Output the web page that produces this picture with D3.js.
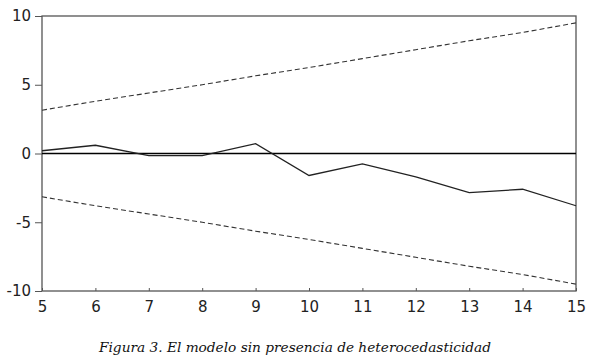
<!DOCTYPE html>
<html>
<head>
<meta charset="utf-8" />
<style>
  body { margin: 0; background: #fff; }
</style>
<script src="https://d3js.org/d3.v7.min.js"></script>
</head>
<body>
<script>
var years = [5, 6, 7, 8, 9, 10, 11, 12, 13, 14, 15];
var residual = [0.2, 0.6, -0.15, -0.15, 0.72, -1.6, -0.75, -1.7, -2.85, -2.6, -3.8];
var upperBand = [3.15, 3.8, 4.4, 5.0, 5.65, 6.25, 6.9, 7.55, 8.2, 8.8, 9.5];
var lowerBand = [-3.15, -3.8, -4.4, -5.0, -5.65, -6.25, -6.9, -7.55, -8.2, -8.8, -9.5];
var yTicks = [-10, -5, 0, 5, 10];
var caption = "Figura 3. El modelo sin presencia de heterocedasticidad";

var width = 592, height = 361;
var plotLeft = 42, plotRight = 576, plotTop = 16, plotBottom = 291;
var tickFont = "'DejaVu Sans', 'Liberation Sans', sans-serif";

var svg = d3.select("body").append("svg")
    .attr("width", width)
    .attr("height", height);

var x = d3.scaleLinear().domain([5, 15]).range([plotLeft, plotRight]);
var y = d3.scaleLinear().domain([-10, 10]).range([plotBottom, plotTop]);

// frame
svg.append("rect")
    .attr("x", plotLeft).attr("y", plotTop)
    .attr("width", plotRight - plotLeft).attr("height", plotBottom - plotTop)
    .attr("fill", "none").attr("stroke", "#555").attr("stroke-width", 1.3);

// zero line
svg.append("line")
    .attr("x1", plotLeft).attr("x2", plotRight)
    .attr("y1", y(0)).attr("y2", y(0))
    .attr("stroke", "#000").attr("stroke-width", 1.3);

// axes (plain hyphen for negatives, like the original)
var fmt = function (d) { return String(d); };

var xAxis = svg.append("g")
    .attr("transform", "translate(0," + plotBottom + ")")
    .call(d3.axisBottom(x).tickValues(years).tickSize(-3).tickFormat(fmt));
xAxis.attr("font-family", tickFont).attr("font-size", 15);
xAxis.select(".domain").remove();
xAxis.selectAll("line").attr("stroke", "#555");
xAxis.selectAll("text").attr("fill", "#222").attr("y", 10);

var yAxis = svg.append("g")
    .attr("transform", "translate(" + plotLeft + ",0)")
    .call(d3.axisLeft(y).tickValues(yTicks).tickSize(7).tickPadding(4).tickFormat(fmt));
yAxis.attr("font-family", tickFont).attr("font-size", 15);
yAxis.select(".domain").remove();
yAxis.selectAll("line").attr("stroke", "#555");
yAxis.selectAll("text").attr("fill", "#222");

var line = d3.line()
    .x(function (d, i) { return x(years[i]); })
    .y(function (d) { return y(d); });

svg.append("path").datum(upperBand)
    .attr("d", line).attr("fill", "none")
    .attr("stroke", "#333").attr("stroke-width", 1.1).attr("stroke-dasharray", "5,3");
svg.append("path").datum(lowerBand)
    .attr("d", line).attr("fill", "none")
    .attr("stroke", "#333").attr("stroke-width", 1.1).attr("stroke-dasharray", "5,3");
svg.append("path").datum(residual)
    .attr("d", line).attr("fill", "none")
    .attr("stroke", "#222").attr("stroke-width", 1.3);

svg.append("text")
    .attr("x", 295).attr("y", 352)
    .attr("text-anchor", "middle")
    .attr("font-family", "'DejaVu Serif', 'Liberation Serif', serif")
    .attr("font-style", "italic")
    .attr("font-size", 13.7)
    .attr("fill", "#111")
    .text(caption);
</script>
</body>
</html>
